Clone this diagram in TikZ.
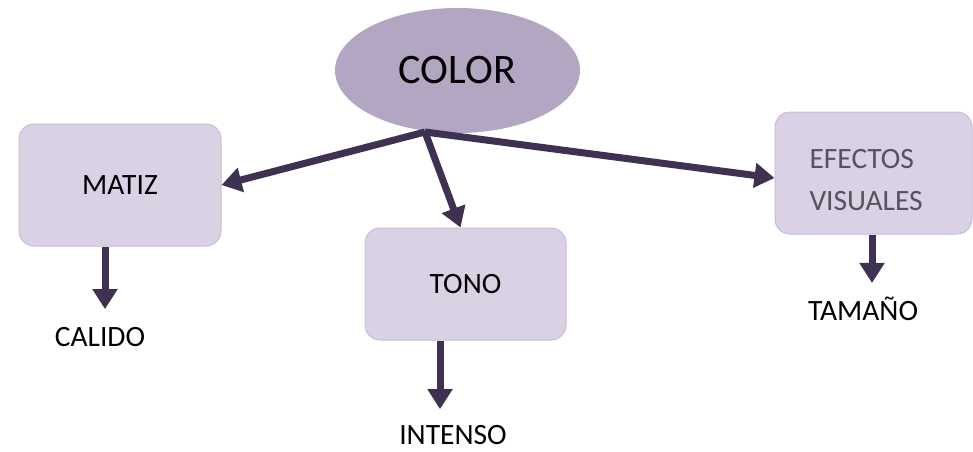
\documentclass[tikz,border=0pt]{standalone}
\usepackage{fontspec}
\setmainfont{Carlito}
\usetikzlibrary{arrows.meta,shapes.geometric}
\definecolor{ellfill}{HTML}{B3A6C3}
\definecolor{boxfill}{HTML}{DAD1E5}
\definecolor{boxline}{HTML}{C8BCD8}
\definecolor{arrowc}{HTML}{3F3151}
\definecolor{graytext}{HTML}{595060}
\tikzset{
  x=1pt, y=-1pt,
  conceptbox/.style={draw=boxline, line width=1pt, fill=boxfill, rounded corners=15pt,
    inner sep=0pt, font=\fontsize{29.5}{35}\selectfont},
  leaf/.style={inner sep=0pt, font=\fontsize{29.5}{35}\selectfont},
  bigarrow/.style={draw=arrowc, line width=7pt, -{Triangle[width=24pt,length=20pt]}},
}
\begin{document}
\begin{tikzpicture}
\useasboundingbox (0,0) rectangle (973,451);
\node[ellipse, fill=ellfill, minimum width=245pt, minimum height=125pt, inner sep=0pt,
  font=\fontsize{42}{48}\selectfont] (color) at (457.5,70.5) {COLOR};
\coordinate (hub) at (425,132);
\node[conceptbox, minimum width=202pt, minimum height=122pt] (matiz) at (120,185) {MATIZ};
\node[conceptbox, minimum width=201pt, minimum height=112pt] (tono) at (465.5,284) {TONO};
\node[conceptbox, minimum width=197pt, minimum height=122pt, text width=130pt, align=left,
  text=graytext] (efectos) at (873.5,173) {\rule{0pt}{34pt}\hspace*{1pt}EFECTOS\\[7pt]\hspace*{1pt}VISUALES};
\node[leaf] (calido) at (100,337) {CALIDO};
\node[leaf] (intenso) at (453,435) {INTENSO};
\node[leaf] (tamano) at (863,309) {TAMAÑO};
\draw[bigarrow] (hub) -- (matiz.east);
\draw[bigarrow] (hub) -- ([xshift=-5pt]tono.north);
\draw[bigarrow] (hub) -- ([yshift=-5pt]efectos.west);
\draw[bigarrow] ([xshift=-15pt]matiz.south) -- ([xshift=5pt,yshift=18pt]calido.north);
\draw[bigarrow] ([xshift=-25.5pt]tono.south) -- ([xshift=-13pt,yshift=16pt]intenso.north);
\draw[bigarrow] ([xshift=-1.5pt]efectos.south) -- ([xshift=9pt,yshift=14pt]tamano.north);
\end{tikzpicture}
\end{document}
